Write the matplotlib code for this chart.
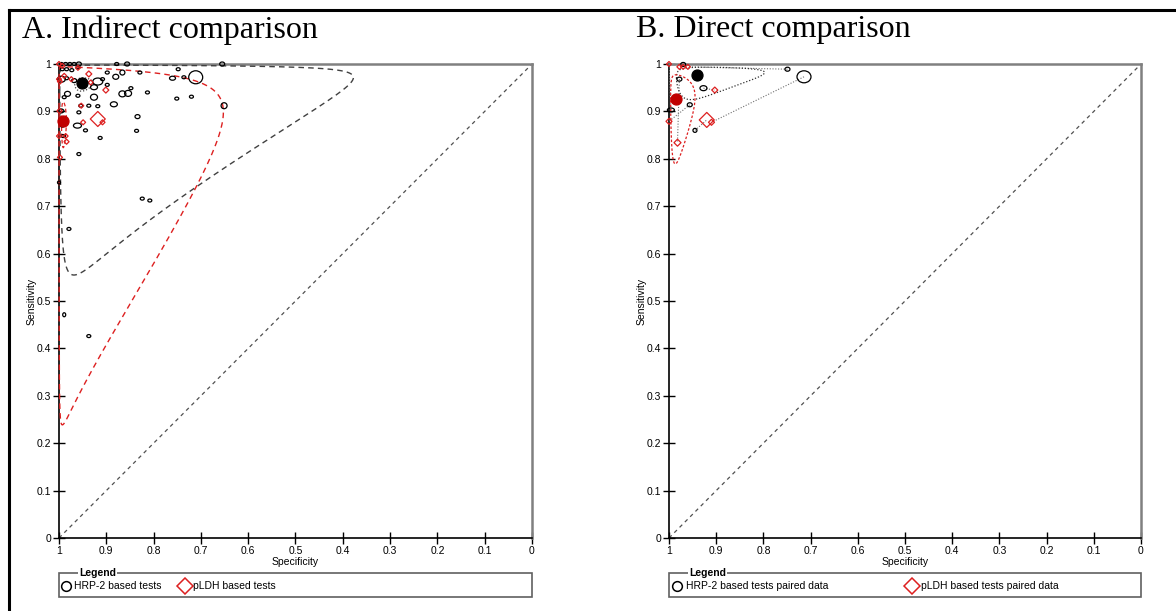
import numpy as np
import matplotlib
matplotlib.use("Agg")
import matplotlib.pyplot as plt
from matplotlib.collections import EllipseCollection
from matplotlib.patches import Rectangle
from matplotlib.lines import Line2D

# ---------------- data ----------------
# Panel A (indirect comparison): HRP-2 studies (spec, sens, relative marker width/height)
hrp2_a_spec = [0.995, 0.986, 0.977, 0.968, 0.958, 0.878, 0.856, 0.655, 0.993, 0.984, 0.973, 0.960,
               0.995, 0.984, 0.968, 0.926, 0.918, 0.908, 0.898, 0.880, 0.866, 0.829, 0.748, 0.760,
               0.736, 0.711, 0.651, 0.898, 0.866, 0.854, 0.848, 0.813, 0.751, 0.720, 0.884, 0.926,
               0.937, 0.918, 0.960, 0.982, 0.989, 0.954, 0.958, 0.834, 0.961, 0.944, 0.913, 0.836,
               0.958, 0.993, 0.991, 0.996, 1.000, 0.824, 0.808, 0.979, 0.989, 0.937]
hrp2_a_sens = [1.000, 1.000, 1.000, 1.000, 1.000, 1.000, 1.000, 1.000, 0.989, 0.989, 0.987, 0.993,
               0.968, 0.970, 0.965, 0.951, 0.963, 0.968, 0.982, 0.973, 0.982, 0.982, 0.989, 0.970,
               0.972, 0.972, 0.912, 0.956, 0.937, 0.938, 0.949, 0.940, 0.927, 0.931, 0.915, 0.930,
               0.912, 0.911, 0.933, 0.937, 0.930, 0.912, 0.898, 0.889, 0.870, 0.860, 0.844, 0.859,
               0.810, 0.870, 0.848, 0.901, 0.750, 0.716, 0.712, 0.652, 0.471, 0.426]
hrp2_a_w = [4, 4, 4, 4, 5, 4, 5, 5, 4, 4, 4, 4, 8, 4, 5, 7, 10, 4, 4, 6, 5, 4, 4, 6,
            4, 14, 6, 4, 7, 7, 4, 4, 4, 4, 7, 7, 4, 4, 4, 6, 4, 4, 4, 5, 8, 4, 4, 4,
            4, 4, 4, 6, 3, 4, 4, 4, 3, 4]
hrp2_a_h = [3, 3, 3, 3, 4, 3, 4, 4, 3, 3, 3, 3, 6, 3, 4, 5, 7, 3, 3, 5, 5, 3, 3, 4,
            3, 13, 6, 3, 6, 6, 3, 3, 3, 3, 5, 6, 3, 3, 3, 5, 3, 3, 3, 4, 5, 3, 3, 3,
            3, 3, 3, 4, 3, 3, 3, 3, 4, 3]

# Panel A: pLDH studies
pldh_a_spec = [1.000, 0.993, 0.960, 1.000, 0.998, 0.989, 0.974, 0.937, 0.933, 0.901, 0.953, 0.949,
               0.918, 0.908, 0.999, 1.000, 0.986, 0.984, 0.998]
pldh_a_sens = [1.000, 0.996, 0.992, 0.968, 0.963, 0.975, 0.968, 0.979, 0.961, 0.945, 0.912, 0.877,
               0.884, 0.877, 0.901, 0.848, 0.848, 0.836, 0.803]
pldh_a_size = [5, 5, 5, 5, 5, 5, 5, 6, 5, 6, 5, 5, 15, 5, 5, 5, 5, 5, 5]

# Panel A summary points (spec, sens)
summ_a_hrp2 = (0.951, 0.959)
summ_a_pldh = (0.991, 0.880)

# Panel A regions in logit space: centre (logit spec, logit sens), half-widths, correlation
pred_a_hrp2 = dict(cx=2.97, cy=3.15, a=3.47, b=2.93, rho=-0.13)
pred_a_pldh = dict(cx=4.70, cy=1.99, a=4.07, b=3.15, rho=-0.06)
conf_a_hrp2 = dict(cx=2.97, cy=3.15, a=0.40, b=0.35, rho=-0.10)
conf_a_pldh = dict(cx=4.70, cy=1.99, a=0.55, b=0.45, rho=0.0)

# Panel B (direct comparison, paired data)
hrp2_b_spec = [0.970, 0.978, 0.927, 0.956, 0.996, 0.945, 0.749, 0.714]
hrp2_b_sens = [0.999, 0.968, 0.949, 0.914, 0.903, 0.860, 0.989, 0.973]
hrp2_b_w = [5, 5, 7, 5, 7, 4, 5, 14]
hrp2_b_h = [4, 4, 5, 4, 4, 4, 4, 12]
pldh_b_spec = [1.000, 0.978, 0.970, 0.960, 0.903, 1.000, 0.920, 0.910, 0.982]
pldh_b_sens = [1.000, 0.994, 0.994, 0.994, 0.945, 0.879, 0.882, 0.877, 0.834]
pldh_b_size = [5, 5, 5, 5, 6, 6, 15, 6, 7]
# pairs: index of HRP-2 study -> index of pLDH study
pair_hrp2 = [6, 7, 5, 3, 2, 1, 4, 0]
pair_pldh = [3, 7, 6, 5, 4, 8, 0, 1]

summ_b_hrp2 = (0.940, 0.977)
summ_b_pldh = (0.986, 0.927)
conf_b_hrp2 = dict(cx=2.75, cy=3.75, a=1.38, b=1.24, rho=-0.20)
conf_b_pldh = dict(cx=4.25, cy=2.54, a=1.41, b=1.22, rho=-0.04)

ticks = [0, 0.1, 0.2, 0.3, 0.4, 0.5, 0.6, 0.7, 0.8, 0.9, 1]
tick_labels = ["0", "0.1", "0.2", "0.3", "0.4", "0.5", "0.6", "0.7", "0.8", "0.9", "1"]

# ---------------- styling ----------------
BLACK = "#000000"
RED = "#dd2020"
RED_DARK = "#c00000"
GRAY = "#808080"
W, H = 1176, 611

plt.rcParams['font.family'] = ['Liberation Sans', 'DejaVu Sans']
fig = plt.figure(figsize=(W / 100, H / 100), dpi=100)


def rect(l, t, r, b):
    return [l / W, 1 - b / H, (r - l) / W, (b - t) / H]


def expit(v):
    return 1.0 / (1.0 + np.exp(-v))


def region(p, n=600):
    t = np.linspace(0, 2 * np.pi, n)
    th = np.arccos(p['rho'])
    x = p['cx'] + p['a'] * np.cos(t)
    y = p['cy'] + p['b'] * np.cos(t + th)
    return expit(x), expit(y)


def setup_axes(ax):
    ax.set_xlim(1, 0)
    ax.set_ylim(0, 1)
    ax.set_xticks(ticks)
    ax.set_xticklabels(tick_labels)
    ax.set_yticks(ticks)
    ax.set_yticklabels(tick_labels)
    ax.tick_params(direction='inout', length=9, width=1, labelsize=7.5, pad=1, colors=BLACK)
    for s in ['left', 'bottom']:
        ax.spines[s].set_color(BLACK)
        ax.spines[s].set_linewidth(1.2)
    for s in ['top', 'right']:
        ax.spines[s].set_color(GRAY)
        ax.spines[s].set_linewidth(1.8)
    ax.set_xlabel("Specificity", fontsize=7.5, labelpad=1)
    ax.set_ylabel("Sensitivity", fontsize=7.5)
    ax.yaxis.set_label_coords(-0.047, 0.5)
    ax.plot([1, 0], [0, 1], ls=(0, (3, 3)), color='#505050', lw=0.9)


def ellipses(ax, xs, ys, ws, hs, face='none', edge=BLACK, lw=0.9, z=5):
    ec = EllipseCollection(ws, hs, np.zeros(len(ws)), units='dots',
                           offsets=np.column_stack([xs, ys]),
                           offset_transform=ax.transData,
                           facecolors=face, edgecolors=edge, linewidths=lw, zorder=z)
    ec.set_clip_on(False)
    ax.add_collection(ec)


def diamonds(ax, xs, ys, sizes, z=6):
    s = [(0.509 * d) ** 2 for d in sizes]
    ax.scatter(xs, ys, s=s, marker='D', facecolors='none', edgecolors=RED,
               linewidths=0.9, zorder=z, clip_on=False)


def legend_box(l, r, items):
    top, bot = 573, 597
    fig.patches.append(Rectangle((l / W, 1 - bot / H), (r - l) / W, (bot - top) / H,
                                 transform=fig.transFigure, fill=False,
                                 edgecolor='#606060', lw=1.2))
    fig.text((l + 20) / W, 1 - top / H, "Legend", fontsize=7.5, fontweight='bold',
             ha='left', va='center',
             bbox=dict(facecolor='white', edgecolor='none', pad=1.0))
    for (mx, marker, col, tx, label) in items:
        fig.lines.append(Line2D([mx / W], [1 - 586 / H], transform=fig.transFigure,
                                marker=marker, markersize=7 if marker == 'o' else 8,
                                markerfacecolor='none', markeredgecolor=col,
                                markeredgewidth=1.1, ls='none'))
        fig.text(tx / W, 1 - 586 / H, label, fontsize=7.5, ha='left', va='center')


# ---------------- panel A ----------------
axA = fig.add_axes(rect(59, 64, 532, 538))
setup_axes(axA)
x, y = region(pred_a_hrp2)
axA.plot(x, y, ls=(0, (4, 3)), color='#404040', lw=1.0, zorder=3, clip_on=False)
x, y = region(pred_a_pldh)
axA.plot(x, y, ls=(0, (4, 3)), color=RED, lw=1.0, zorder=3, clip_on=False)
x, y = region(conf_a_hrp2)
axA.plot(x, y, ls=(0, (1, 1.5)), color='#404040', lw=0.9, zorder=4)
x, y = region(conf_a_pldh)
axA.plot(x, y, ls=(0, (3, 2)), color=RED, lw=0.9, zorder=4, clip_on=False)
ellipses(axA, hrp2_a_spec, hrp2_a_sens, hrp2_a_w, hrp2_a_h)
diamonds(axA, pldh_a_spec, pldh_a_sens, pldh_a_size)
ellipses(axA, [summ_a_hrp2[0]], [summ_a_hrp2[1]], [11], [11], face=BLACK, edge=BLACK, z=8)
ellipses(axA, [summ_a_pldh[0]], [summ_a_pldh[1]], [11], [11], face=RED_DARK, edge=RED_DARK, z=8)

# ---------------- panel B ----------------
axB = fig.add_axes(rect(669, 64, 1141, 538))
setup_axes(axB)
for hi, pi in zip(pair_hrp2, pair_pldh):
    axB.plot([hrp2_b_spec[hi], pldh_b_spec[pi]], [hrp2_b_sens[hi], pldh_b_sens[pi]],
             ls=(0, (1, 1.5)), color='#707070', lw=0.8, zorder=3)
x, y = region(conf_b_hrp2)
axB.plot(x, y, ls=(0, (1, 1.5)), color='#303030', lw=0.9, zorder=4, clip_on=False)
x, y = region(conf_b_pldh)
axB.plot(x, y, ls=(0, (2, 1.5)), color=RED, lw=0.9, zorder=4, clip_on=False)
ellipses(axB, hrp2_b_spec, hrp2_b_sens, hrp2_b_w, hrp2_b_h)
diamonds(axB, pldh_b_spec, pldh_b_sens, pldh_b_size)
ellipses(axB, [summ_b_hrp2[0]], [summ_b_hrp2[1]], [11], [11], face=BLACK, edge=BLACK, z=8)
ellipses(axB, [summ_b_pldh[0]], [summ_b_pldh[1]], [11], [11], face=RED_DARK, edge=RED_DARK, z=8)

# ---------------- titles, legends, frame ----------------
fig.text(22 / W, 1 - 30 / H, "A. Indirect comparison", fontsize=23,
         family='Liberation Serif', ha='left', va='center')
fig.text(636 / W, 1 - 30 / H, "B. Direct comparison", fontsize=23,
         family='Liberation Serif', ha='left', va='center')

legend_box(59, 532, [(66, 'o', BLACK, 74, "HRP-2 based tests"),
                     (185, 'D', RED, 193, "pLDH based tests")])
legend_box(669, 1141, [(677, 'o', BLACK, 686, "HRP-2 based tests paired data"),
                       (912, 'D', RED, 921, "pLDH based tests paired data")])

fig.lines.append(Line2D([8.5 / W, 8.5 / W], [1 - 10 / H, 0], transform=fig.transFigure,
                        color=BLACK, lw=2.2))
fig.lines.append(Line2D([8.5 / W, 1], [1 - 10 / H, 1 - 10 / H], transform=fig.transFigure,
                        color=BLACK, lw=2.2))

fig.savefig("out.png", dpi=100, facecolor='white')
